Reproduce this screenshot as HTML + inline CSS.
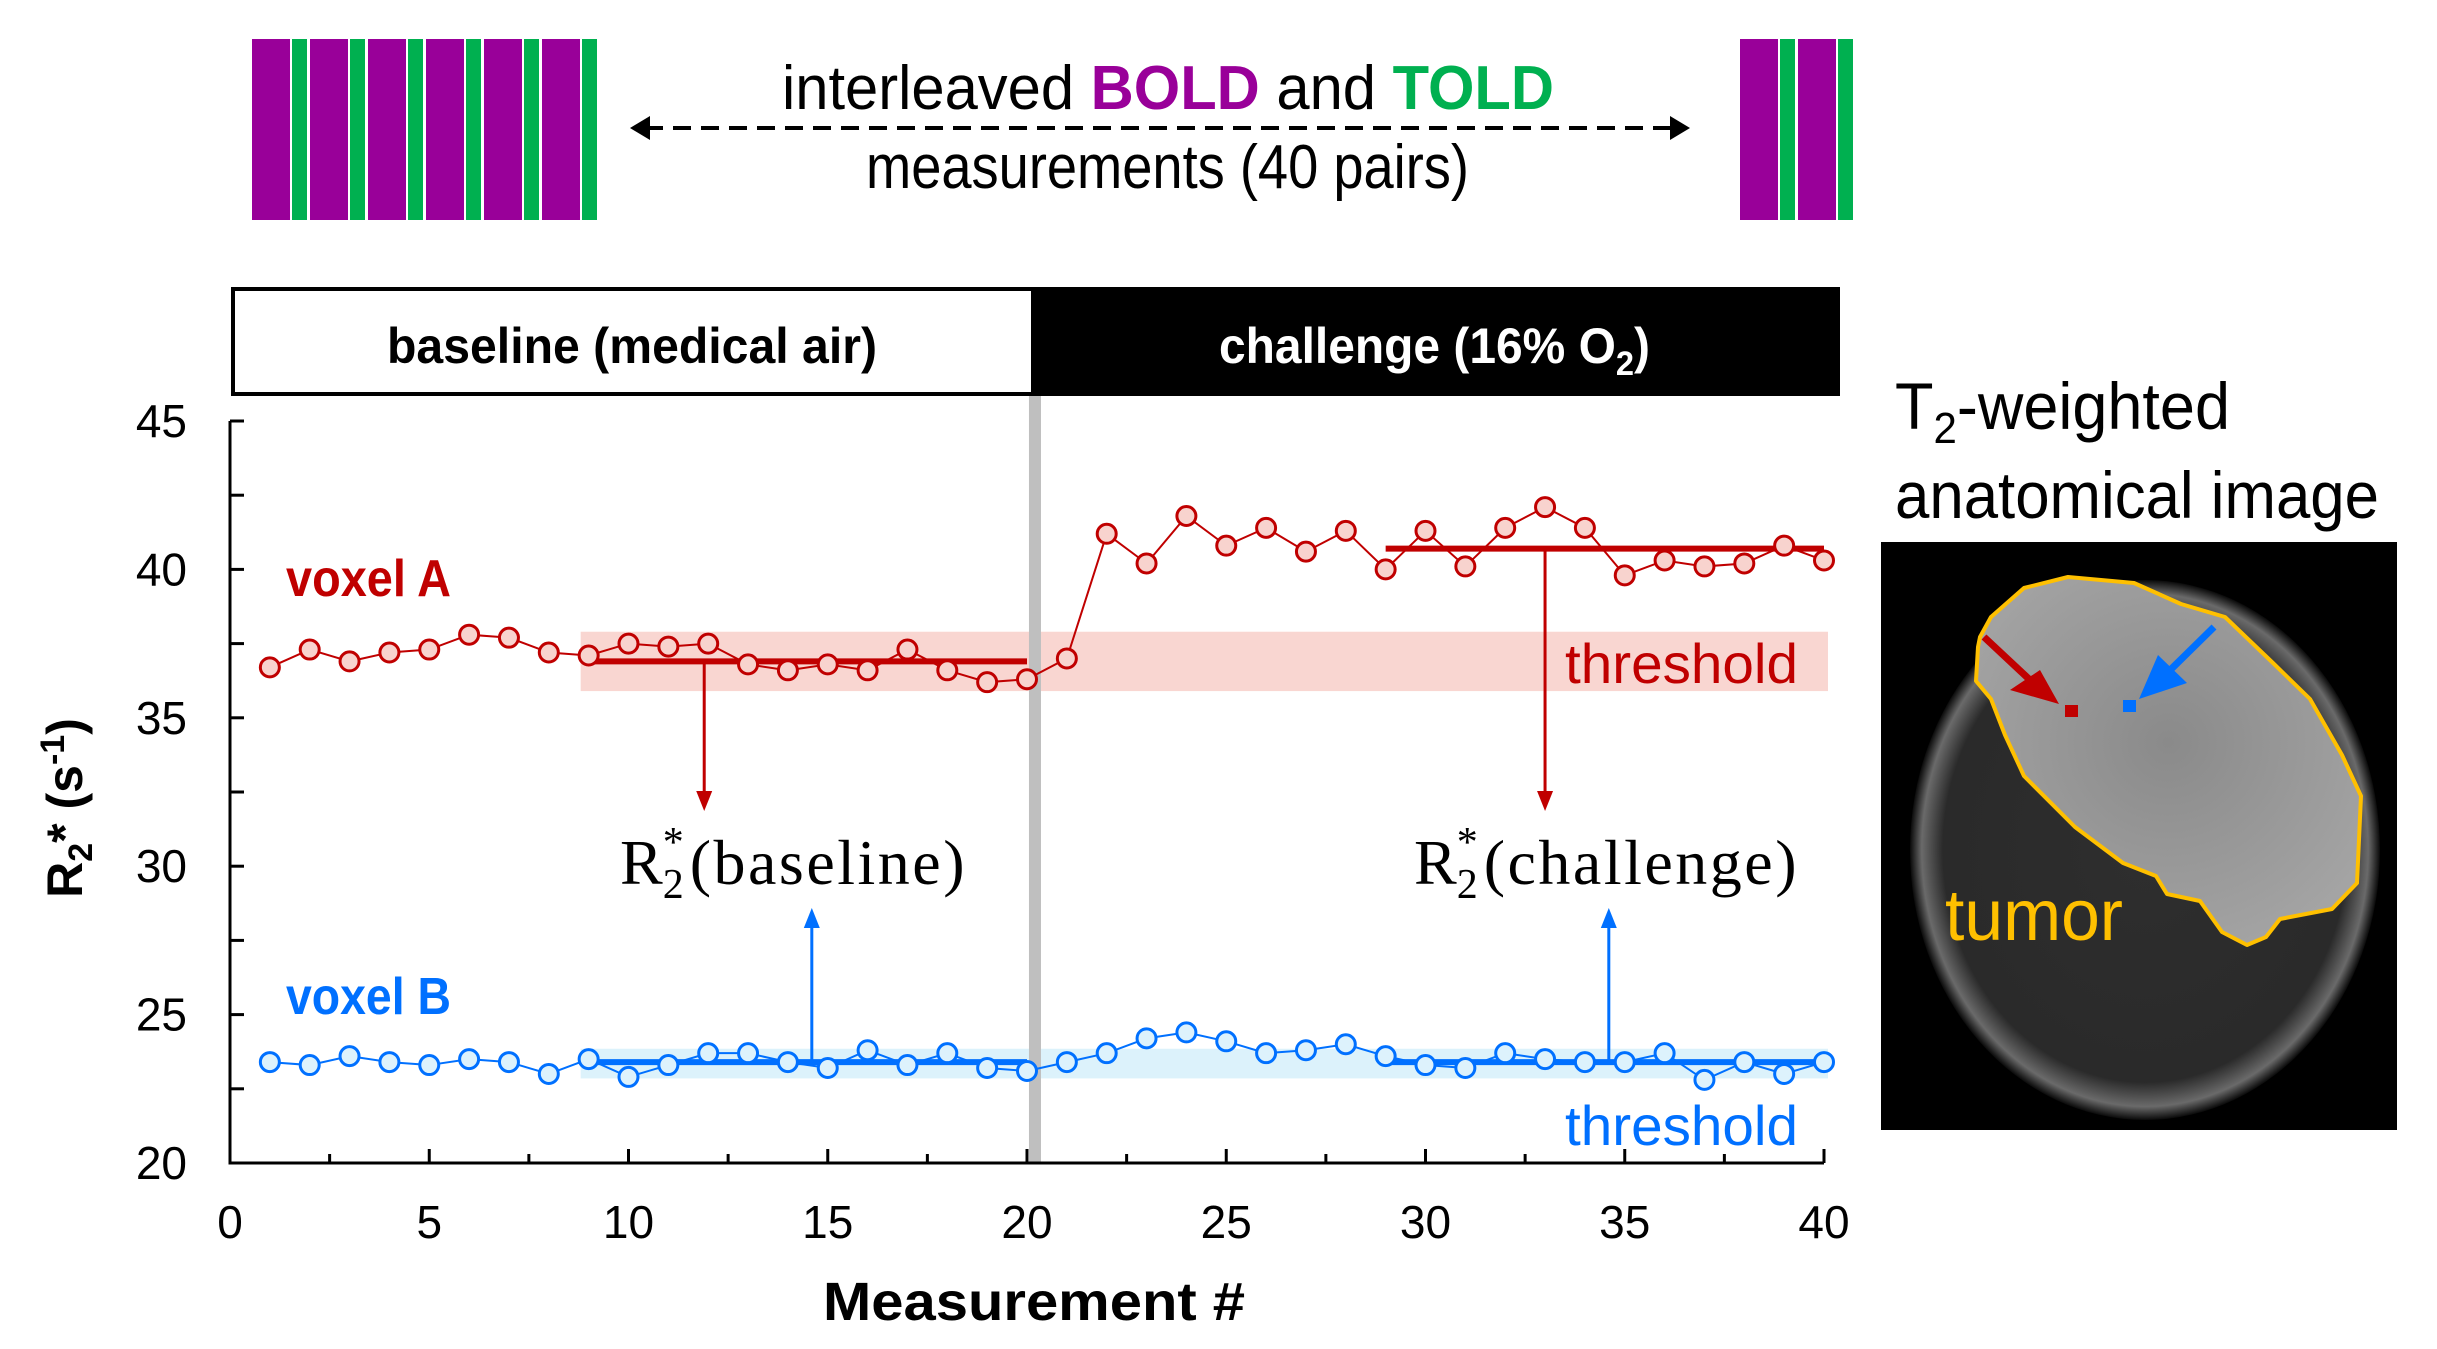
<!DOCTYPE html>
<html><head><meta charset="utf-8"><style>
html,body{margin:0;padding:0;background:#fff;}
svg{display:block;}
text{font-family:"Liberation Sans",sans-serif;}
.nar{font-family:"Liberation Sans Narrow","Liberation Sans",sans-serif;}
.ser{font-family:"Liberation Serif",serif;}
</style></head><body>
<svg id="fig" width="2437" height="1349" viewBox="0 0 2437 1349" xmlns="http://www.w3.org/2000/svg">
<g id="stripes"></g>
<g>
<text class="nar" x="782" y="109" font-size="62" textLength="772" lengthAdjust="spacingAndGlyphs">interleaved <tspan fill="#990099" font-weight="bold">BOLD</tspan> and <tspan fill="#00b050" font-weight="bold">TOLD</tspan></text>
<line x1="645" y1="128" x2="1675" y2="128" stroke="#000" stroke-width="4" stroke-dasharray="18,10"/>
<polygon points="630,128 650,116 650,140" fill="#000"/>
<polygon points="1690,128 1670,116 1670,140" fill="#000"/>
<text class="nar" x="866" y="188" font-size="62" textLength="603" lengthAdjust="spacingAndGlyphs">measurements (40 pairs)</text>
</g>
<g>
<rect x="233" y="289" width="800" height="105" fill="#fff" stroke="#000" stroke-width="4"/>
<rect x="1033" y="287" width="807" height="109" fill="#000"/>
<text class="nar" x="387" y="363" font-size="50" font-weight="bold" textLength="490" lengthAdjust="spacingAndGlyphs">baseline (medical air)</text>
<text class="nar" x="1219" y="363" font-size="50" font-weight="bold" fill="#fff" textLength="431" lengthAdjust="spacingAndGlyphs">challenge (16% O<tspan font-size="34" dy="12">2</tspan><tspan dy="-12">)</tspan></text>
</g>
<g id="chart"></g>
<g>
<text x="1895" y="429" font-size="66" textLength="335" lengthAdjust="spacingAndGlyphs">T<tspan font-size="44" dy="14">2</tspan><tspan dy="-14">-weighted</tspan></text>
<text x="1895" y="518" font-size="66" textLength="484" lengthAdjust="spacingAndGlyphs">anatomical image</text>
<defs>
<radialGradient id="bodyG" cx="50%" cy="50%" r="50%"><stop offset="0" stop-color="#2e2e2e"/><stop offset="0.86" stop-color="#2a2a2a"/><stop offset="0.95" stop-color="#6a6a6a"/><stop offset="1" stop-color="#0a0a0a"/></radialGradient>
<radialGradient id="tumG" cx="50%" cy="45%" r="60%"><stop offset="0" stop-color="#8a8a8a"/><stop offset="1" stop-color="#a4a4a4"/></radialGradient>
</defs>
<rect x="1881" y="542" width="516" height="588" fill="#000"/>
<ellipse cx="2145" cy="850" rx="235" ry="270" fill="url(#bodyG)"/>
<polygon points="1980,637 1991,617 2024,588 2068,577 2134,583 2181,604 2225,617 2273,663 2310,699 2342,755 2361,796 2357,883 2332,909 2280,919 2266,937 2247,945 2222,932 2200,901 2167,894 2156,876 2123,863 2075,827 2024,776 2005,735 1991,699 1976,681 1978,647" fill="url(#tumG)" stroke="#ffc000" stroke-width="4" stroke-linejoin="round"/>
<line x1="1984" y1="637" x2="2045" y2="694" stroke="#c00000" stroke-width="7"/>
<polygon points="2059,704 2010,690 2040,670" fill="#c00000"/>
<rect x="2065" y="705" width="13" height="12" fill="#c00000"/>
<line x1="2214" y1="627" x2="2155" y2="685" stroke="#0070ff" stroke-width="7"/>
<polygon points="2139,699 2187,683 2158,655" fill="#0070ff"/>
<rect x="2123" y="700" width="13" height="12" fill="#0070ff"/>
<text x="1945" y="940" font-size="72" fill="#ffc000" textLength="178" lengthAdjust="spacingAndGlyphs">tumor</text>
</g>
</svg>
<script>
const xVals = [1,2,3,4,5,6,7,8,9,10,11,12,13,14,15,16,17,18,19,20,21,22,23,24,25,26,27,28,29,30,31,32,33,34,35,36,37,38,39,40];
const voxelA = [36.7,37.3,36.9,37.2,37.3,37.8,37.7,37.2,37.1,37.5,37.4,37.5,36.8,36.6,36.8,36.6,37.3,36.6,36.2,36.3,37.0,41.2,40.2,41.8,40.8,41.4,40.6,41.3,40.0,41.3,40.1,41.4,42.1,41.4,39.8,40.3,40.1,40.2,40.8,40.3];
const voxelB = [23.4,23.3,23.6,23.4,23.3,23.5,23.4,23.0,23.5,22.9,23.3,23.7,23.7,23.4,23.2,23.8,23.3,23.7,23.2,23.1,23.4,23.7,24.2,24.4,24.1,23.7,23.8,24.0,23.6,23.3,23.2,23.7,23.5,23.4,23.4,23.7,22.8,23.4,23.0,23.4];
const meanA = [36.9, 40.7];
const meanB = [23.4, 23.4];
const meanRanges = [[9,20],[29,40]];
const thresholdA = [35.9, 37.9];
const thresholdB = [22.85, 23.85];
const thresholdRange = [8.8, 40.1];
const yTicks = [20,25,30,35,40,45];
const xTicks = [0,5,10,15,20,25,30,35,40];
const arrowXA = [11.9, 33];
const arrowXB = [14.6, 34.6];
const switchX = 20.2;

const NS = "http://www.w3.org/2000/svg";
const X = v => 230 + v * 39.85;
const Y = v => 1163 - (v - 20) * 29.68;
function mk(parent, tag, attrs) {
  const e = document.createElementNS(NS, tag);
  for (const k in attrs) e.setAttribute(k, attrs[k]);
  parent.appendChild(e);
  return e;
}
const st = document.getElementById('stripes');
function stripeBlock(x0, n) {
  for (let i = 0; i < n; i++) {
    const bx = x0 + i * 58;
    const p = mk(st, 'rect', {x: bx, y: 39, width: 38, height: 181, fill: '#990099'});
    
    
    const g = mk(st, 'rect', {x: bx + 40, y: 39, width: 15, height: 181, fill: '#00b050'});
    
    
  }
}
stripeBlock(252, 6);
stripeBlock(1740, 2);

const c = document.getElementById('chart');
const bA = mk(c, 'rect', {x: X(thresholdRange[0]), y: Y(thresholdA[1]), width: X(thresholdRange[1]) - X(thresholdRange[0]), height: Y(thresholdA[0]) - Y(thresholdA[1]), fill: '#f9d6d1'});


const bB = mk(c, 'rect', {x: X(thresholdRange[0]), y: Y(thresholdB[1]), width: X(thresholdRange[1]) - X(thresholdRange[0]), height: Y(thresholdB[0]) - Y(thresholdB[1]), fill: '#dcf2fb'});


const sw = mk(c, 'rect', {x: X(switchX) - 6, y: 396, width: 12, height: 1163 - 396, fill: '#bfbfbf'});


const ax = mk(c, 'path', {d: `M${X(0)},${Y(45)} V${Y(20)} H${X(40)}`, fill: 'none', stroke: '#000', 'stroke-width': 3});


for (let v = 20; v <= 45; v += 2.5) {
  const t = mk(c, 'line', {x1: X(0), x2: X(0) + 14, y1: Y(v), y2: Y(v), stroke: '#000', 'stroke-width': 3});
  
  
}
for (let v = 2.5; v <= 40; v += 2.5) {
  const major = v % 5 === 0;
  const t = mk(c, 'line', {x1: X(v), x2: X(v), y1: Y(20), y2: Y(20) - (major ? 14 : 9), stroke: '#000', 'stroke-width': 3});
  
  
}
yTicks.forEach(v => {
  const t = mk(c, 'text', {x: 187, y: Y(v) + 16, 'font-size': 46, 'text-anchor': 'end'});
  t.textContent = v;
  
  
});
xTicks.forEach(v => {
  const t = mk(c, 'text', {x: X(v), y: 1238, 'font-size': 46, 'text-anchor': 'middle'});
  t.textContent = v;
  
  
});
const xt = mk(c, 'text', {x: 823, y: 1320, 'font-size': 54, 'font-weight': 'bold', textLength: 422, lengthAdjust: 'spacingAndGlyphs'});
xt.textContent = 'Measurement #';


const yt = mk(c, 'text', {x: 0, y: 0, 'font-size': 50, 'font-weight': 'bold', 'text-anchor': 'middle', transform: 'translate(82,808) rotate(-90)'});
yt.innerHTML = 'R<tspan font-size="34" dy="10">2</tspan><tspan dy="-10">* (s</tspan><tspan font-size="34" dy="-18">-1</tspan><tspan dy="18">)</tspan>';



function series(vals, col, fill, name) {
  const pl = mk(c, 'polyline', {points: xVals.map((x, i) => X(x) + ',' + Y(vals[i])).join(' '), fill: 'none', stroke: col, 'stroke-width': 2});
  
  
  xVals.forEach((x, i) => {
    const m = mk(c, 'circle', {cx: X(x), cy: Y(vals[i]), r: 9.5, fill: fill, stroke: col, 'stroke-width': 3});
    
    
  });
}
function means(mv, col, name) {
  meanRanges.forEach((r, i) => {
    const l = mk(c, 'line', {x1: X(r[0]), x2: X(r[1]), y1: Y(mv[i]), y2: Y(mv[i]), stroke: col, 'stroke-width': 6});
    
    
  });
}
function arrow(xv, y0, y1, col, name) {
  const dir = y1 > y0 ? 1 : -1;
  const l = mk(c, 'line', {x1: X(xv), x2: X(xv), y1: y0, y2: y1 - dir * 18, stroke: col, 'stroke-width': 3});
  
  
  const h = mk(c, 'polygon', {points: `${X(xv)},${y1} ${X(xv) - 8},${y1 - dir * 20} ${X(xv) + 8},${y1 - dir * 20}`, fill: col});
  
  
}
means(meanA, '#c00000', 'voxel-a');
means(meanB, '#0070ff', 'voxel-b');
series(voxelA, '#c00000', '#f8d3ce', 'voxel-a');
series(voxelB, '#0070ff', '#ddf2fc', 'voxel-b');
arrow(arrowXA[0], Y(meanA[0]), 811, '#c00000', 'baseline-arrow-a');
arrow(arrowXA[1], Y(meanA[1]), 811, '#c00000', 'challenge-arrow-a');
arrow(arrowXB[0], Y(meanB[0]), 908, '#0070ff', 'baseline-arrow-b');
arrow(arrowXB[1], Y(meanB[1]), 908, '#0070ff', 'challenge-arrow-b');

function label(txt, x, y, size, col, w, name, cls, weight) {
  const t = mk(c, 'text', {x: x, y: y, 'font-size': size, fill: col, textLength: w, lengthAdjust: 'spacingAndGlyphs'});
  if (cls) t.setAttribute('class', cls);
  if (weight) t.setAttribute('font-weight', weight);
  t.textContent = txt;
  
  
  return t;
}
label('voxel A', 286, 596, 52, '#c00000', 165, 'voxel-a-label', 'nar', 'bold');
label('voxel B', 286, 1014, 52, '#0070ff', 165, 'voxel-b-label', 'nar', 'bold');
label('threshold', 1565, 683, 56, '#c00000', 233, 'threshold-a-label');
label('threshold', 1565, 1145, 56, '#0070ff', 233, 'threshold-b-label');
function rlabel(x, word, w, name) {
  const t = mk(c, 'text', {x: x, y: 884, 'font-size': 64, 'class': 'ser'});
  t.innerHTML = 'R<tspan font-size="42" dy="14">2</tspan><tspan font-size="42" dx="-21" dy="-42">*</tspan><tspan dy="28" dx="6" letter-spacing="2.5">(' + word + ')</tspan>';
  
  
}
rlabel(620, 'baseline', 361, 'r2-baseline-label');
rlabel(1414, 'challenge', 395, 'r2-challenge-label');
</script>
</body></html>
